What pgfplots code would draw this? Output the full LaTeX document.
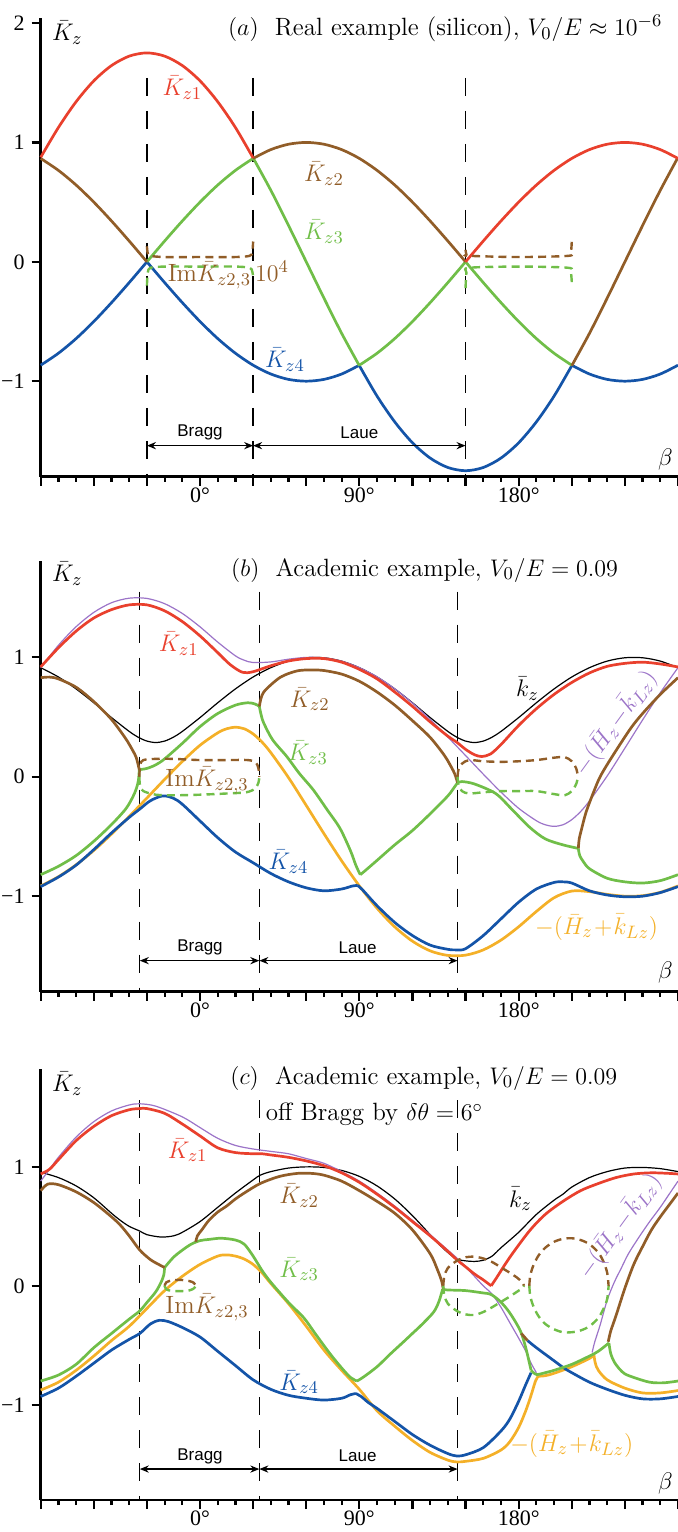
\documentclass[border=0pt]{standalone}
\usepackage{fontspec}
\usepackage{pgfplots}
\pgfplotsset{compat=1.18}
\usetikzlibrary{arrows.meta}
\newfontfamily\tickfontfam{Liberation Serif}
\newfontfamily\sansf{Liberation Sans}
\newcommand\tickfont{\tickfontfam\fontsize{11}{12}\selectfont}
\newcommand\lab{\fontsize{12.5}{14}\selectfont}
\newcommand\bl{\sansf\fontsize{8.5}{10}\selectfont}
\definecolor{cRed}{RGB}{233,64,45}
\definecolor{cBrown}{RGB}{145,93,40}
\definecolor{cGreen}{RGB}{112,190,72}
\definecolor{cBlue}{RGB}{20,84,168}
\definecolor{cOrange}{RGB}{244,176,40}
\definecolor{cPurple}{RGB}{156,116,200}
\pgfplotsset{
 panel/.style={
  scale only axis, width=318.65pt,
  xmin=-90, xmax=270,
  axis x line=bottom, axis y line=left,
  axis line style={-, line width=1.3pt},
  tick align=outside,
  xtick={-90,-60,...,270},
  xticklabels={,,,0°,,,90°,,,180°,,,},
  minor x tick num=2,
  ytick={-1,0,1}, yticklabels={−1,0,1},
  major tick length=4.5pt, minor tick length=2.6pt,
  every tick/.style={black, line width=1.1pt},
  ticklabel style={font=\tickfont},
  xticklabel style={yshift=2.5pt},
  clip=false, no markers,
  anchor=south west,
 },
 cr/.style={cRed, line width=1.35pt, smooth, line join=round},
 cb/.style={cBrown, line width=1.35pt, smooth, line join=round},
 cg/.style={cGreen, line width=1.35pt, smooth, line join=round},
 cu/.style={cBlue, line width=1.35pt, smooth, line join=round},
 co/.style={cOrange, line width=1.35pt, smooth, line join=round},
 cp/.style={cPurple, line width=0.6pt, smooth},
 ck/.style={black, line width=0.6pt, smooth},
 db/.style={cBrown, line width=1.2pt, smooth, dash pattern=on 4pt off 2.6pt},
 dg/.style={cGreen, line width=1.2pt, smooth, dash pattern=on 4pt off 2.6pt},
 vd/.style={black, line width=0.65pt, dash pattern=on 9pt off 7.5pt},
}
\tikzset{arr/.style={{Stealth[length=4.5pt,width=3.6pt]}-{Stealth[length=4.5pt,width=3.6pt]}, line width=0.6pt}}
\begin{document}
\begin{tikzpicture}
\path[use as bounding box] (0,0) rectangle (339pt,766pt);
% ================= panel a =================
\begin{axis}[panel, at={(20.35pt,527.65pt)}, height=229.2pt, ymin=-1.8, ymax=2.04,
  ytick={-1,0,1,2}, yticklabels={−1,0,1,2}]
\addplot[vd] coordinates {(-30,1.54) (-30,-1.8)};
\addplot[vd] coordinates {(30,1.54) (30,-1.8)};
\addplot[vd] coordinates {(150,1.54) (150,-1.8)};
% blue
\addplot[cu] coordinates {(-90,-0.866) (-80,-0.766) (-70,-0.643) (-60,-0.5) (-50,-0.342) (-40,-0.174) (-30,0)};
\addplot[cu] coordinates {(-30,0) (-20,-0.174) (-10,-0.342) (0,-0.5) (10,-0.643) (20,-0.766) (30,-0.866) (40,-0.940) (50,-0.985) (60,-1) (70,-0.985) (80,-0.940) (90,-0.866)};
\addplot[cu] coordinates {(90,-0.87) (100,-1.125) (110,-1.341) (120,-1.516) (130,-1.644) (140,-1.723) (150,-1.75) (160,-1.723) (170,-1.644) (180,-1.516) (190,-1.341) (200,-1.125) (210,-0.87)};
\addplot[cu] coordinates {(210,-0.866) (220,-0.940) (230,-0.985) (240,-1) (250,-0.985) (260,-0.940) (270,-0.866)};
% green
\addplot[cg] coordinates {(-30,0) (-20,0.174) (-10,0.342) (0,0.5) (10,0.643) (20,0.766) (30,0.866)};
\addplot[cg] coordinates {(30,0.87) (40,0.599) (50,0.304) (60,0) (70,-0.304) (80,-0.599) (90,-0.87)};
\addplot[cg] coordinates {(90,-0.866) (100,-0.766) (110,-0.643) (120,-0.5) (130,-0.342) (140,-0.174) (150,0)};
\addplot[cg] coordinates {(150,0) (160,-0.174) (170,-0.342) (180,-0.5) (190,-0.643) (200,-0.766) (210,-0.866)};
% brown
\addplot[cb] coordinates {(-90,0.866) (-80,0.766) (-70,0.643) (-60,0.5) (-50,0.342) (-40,0.174) (-30,0)};
\addplot[cb] coordinates {(30,0.866) (40,0.940) (50,0.985) (60,1) (70,0.985) (80,0.940) (90,0.866) (100,0.766) (110,0.643) (120,0.5) (130,0.342) (140,0.174) (150,0)};
\addplot[cb] coordinates {(210,-0.87) (220,-0.599) (230,-0.304) (240,0) (250,0.304) (260,0.599) (270,0.875)};
% red
\addplot[cr] coordinates {(-90,0.875) (-80,1.125) (-70,1.341) (-60,1.516) (-50,1.644) (-40,1.723) (-30,1.75) (-20,1.723) (-10,1.644) (0,1.516) (10,1.341) (20,1.125) (30,0.87)};
\addplot[cr] coordinates {(150,0) (160,0.174) (170,0.342) (180,0.5) (190,0.643) (200,0.766) (210,0.866) (220,0.940) (230,0.985) (240,1) (250,0.985) (260,0.940) (270,0.866)};
% Im parts
\addplot[db] coordinates {(-30,0.13) (-29.5,0.07) (-28,0.05) (-20,0.04) (0,0.04) (20,0.04) (28,0.05) (29.5,0.08) (30,0.17)};
\addplot[dg] coordinates {(-30,-0.2) (-29.5,-0.09) (-28,-0.05) (-20,-0.04) (0,-0.04) (20,-0.04) (28,-0.05) (29.5,-0.08) (30,-0.13)};
\addplot[db] coordinates {(150,0.1) (150.5,0.06) (152,0.05) (180,0.04) (208,0.05) (209.5,0.08) (210,0.17)};
\addplot[dg] coordinates {(150,-0.22) (150.5,-0.09) (152,-0.05) (180,-0.04) (208,-0.05) (209.5,-0.09) (210,-0.17)};
% labels
\node[font=\lab] at (axis cs:-75,1.92) {$\bar K_z$};
\node[font=\lab, anchor=base] at (axis cs:138.5,1.895) {$(a)$\ \ Real example (silicon), $V_0/E\approx10^{-6}$};
\node[font=\lab, text=cRed] at (axis cs:-10,1.46) {$\bar K_{z1}$};
\node[font=\lab, text=cBrown] at (axis cs:70,0.74) {$\bar K_{z2}$};
\node[font=\lab, text=cGreen] at (axis cs:70,0.25) {$\bar K_{z3}$};
\node[font=\lab, text=cBrown] at (axis cs:16,-0.11) {Im$\bar K_{z2,3}\,10^4$};
\node[font=\lab, text=cBlue] at (axis cs:48,-0.82) {$\bar K_{z4}$};
\draw[arr] (axis cs:-30,-1.54) -- (axis cs:30,-1.54);
\draw[arr] (axis cs:30,-1.54) -- (axis cs:150,-1.54);
\node[font=\bl] at (axis cs:0,-1.43) {Bragg};
\node[font=\bl] at (axis cs:90,-1.43) {Laue};
\node[font=\lab, anchor=east] at (axis cs:271,-1.66) {$\beta$};
\end{axis}
% ================= panel b =================
\begin{axis}[panel, at={(20.35pt,270.15pt)}, height=215.5pt, ymin=-1.8, ymax=1.81]
\addplot[vd] coordinates {(-34,1.55) (-34,-1.8)};
\addplot[vd] coordinates {(33.5,1.55) (33.5,-1.8)};
\addplot[vd] coordinates {(145.5,1.55) (145.5,-1.8)};
% black k_z
\addplot[ck] coordinates {(-90,0.914) (-80,0.836) (-70,0.736) (-60,0.620) (-50,0.496) (-40,0.380) (-35,0.332) (-30,0.299) (-25,0.287) (-20,0.299) (-15,0.332) (-10,0.380) (0,0.496) (10,0.620) (20,0.736) (30,0.836) (40,0.914) (50,0.969) (60,0.997) (70,0.997) (80,0.969) (90,0.914) (100,0.836) (110,0.736) (120,0.620) (130,0.496) (140,0.380) (145,0.332) (150,0.299) (155,0.287) (160,0.299) (165,0.332) (170,0.380) (180,0.496) (190,0.620) (200,0.736) (210,0.836) (220,0.914) (230,0.969) (240,0.997) (250,0.997) (260,0.969) (270,0.914)};
% purple
\addplot[cp] coordinates {(-90,0.914) (-80,1.101) (-70,1.257) (-60,1.377) (-50,1.458) (-40,1.496) (-30,1.494) (-20,1.450) (-10,1.368) (0,1.256) (10,1.128) (20,1.013) (25,0.976) (30,0.957) (40,0.962) (50,0.985) (60,1.000) (70,0.996) (80,0.968) (90,0.914) (100,0.837) (110,0.737) (120,0.617) (130,0.480) (140,0.332) (150,0.178) (160,0.022) (170,-0.128) (180,-0.264) (190,-0.368) (195,-0.402) (200,-0.415) (205,-0.402) (210,-0.359) (215,-0.291) (220,-0.202) (230,0.007) (240,0.240) (250,0.476) (260,0.704) (270,0.914)};
% orange
\addplot[co] coordinates {(-90,-0.914) (-80,-0.837) (-70,-0.737) (-60,-0.617) (-50,-0.480) (-40,-0.332) (-30,-0.178) (-20,-0.022) (-10,0.128) (0,0.264) (10,0.368) (15,0.402) (20,0.415) (25,0.402) (30,0.359) (35,0.291) (40,0.202) (50,-0.007) (60,-0.240) (70,-0.476) (80,-0.704) (90,-0.914) (100,-1.101) (110,-1.257) (120,-1.377) (130,-1.458) (140,-1.496) (150,-1.494) (160,-1.450) (170,-1.368) (180,-1.256) (190,-1.128) (200,-1.013) (210,-0.957) (220,-0.962) (230,-0.985) (240,-1.000) (250,-0.996) (260,-0.968) (270,-0.914)};
% blue
\addplot[cu] coordinates {(-90,-0.92) (-80,-0.84) (-70,-0.74) (-60,-0.61) (-50,-0.47) (-40,-0.34) (-34,-0.27) (-28,-0.20) (-21,-0.16) (-15,-0.18) (-10,-0.23) (0,-0.37) (10,-0.51) (20,-0.63) (30,-0.72) (40,-0.81) (50,-0.88) (60,-0.93) (70,-0.955) (80,-0.94) (86,-0.915) (89,-0.91)};
\addplot[cu] coordinates {(89,-0.91) (92,-0.95) (100,-1.08) (110,-1.22) (120,-1.33) (130,-1.41) (140,-1.445) (145,-1.45) (150,-1.44) (160,-1.33) (170,-1.19) (180,-1.05) (190,-0.94) (200,-0.885) (205,-0.88) (210,-0.89) (220,-0.955) (230,-0.99) (240,-1.005) (250,-1.0) (260,-0.97) (270,-0.92)};
% green
\addplot[cg] coordinates {(-90,-0.82) (-80,-0.75) (-70,-0.66) (-60,-0.54) (-50,-0.40) (-42,-0.27) (-38,-0.17) (-36,-0.10) (-34.8,-0.03) (-34.3,0.06)};
\addplot[cg] coordinates {(-34.3,0.06) (-30,0.07) (-25,0.10) (-20,0.15) (-10,0.28) (0,0.42) (10,0.53) (20,0.60) (27,0.62) (31,0.61) (33.5,0.59)};
\addplot[cg] coordinates {(33.5,0.59) (34.5,0.52) (36,0.45) (41,0.31) (49,0.17) (56,0.03) (64,-0.11) (72,-0.28) (79,-0.43) (85,-0.62) (88,-0.74) (90.5,-0.82)};
\addplot[cg] coordinates {(90.5,-0.82) (93,-0.79) (100,-0.70) (110,-0.57) (120,-0.45) (130,-0.31) (140,-0.16) (144,-0.08) (145.5,-0.05)};
\addplot[cg] coordinates {(145.5,-0.05) (148,-0.04) (155,-0.06) (167,-0.14) (176,-0.27) (186,-0.42) (195,-0.52) (205,-0.57) (213.7,-0.60)};
\addplot[cg] coordinates {(213.7,-0.60) (214.5,-0.66) (216.5,-0.71) (220,-0.77) (230,-0.85) (240,-0.88) (250,-0.89) (260,-0.87) (270,-0.82)};
% brown
\addplot[cb] coordinates {(-90,0.83) (-85,0.835) (-80,0.82) (-70,0.75) (-60,0.63) (-50,0.48) (-42,0.32) (-38,0.22) (-36,0.16) (-34.3,0.06)};
\addplot[cb] coordinates {(33.5,0.59) (34.5,0.66) (36,0.71) (40,0.77) (45,0.83) (50,0.865) (56,0.89) (63,0.895) (70,0.89) (80,0.86) (90,0.80) (100,0.71) (110,0.60) (120,0.47) (130,0.33) (138,0.18) (142,0.08) (144,0.02) (145.5,-0.05)};
\addplot[cb] coordinates {(213.7,-0.60) (214.2,-0.52) (215.5,-0.44) (218,-0.30) (222,-0.14) (226,0.0) (232,0.15) (243,0.40) (250,0.53) (260,0.69) (270,0.83)};
% red
\addplot[cr] coordinates {(-90,0.92) (-80,1.08) (-70,1.22) (-60,1.33) (-50,1.40) (-40,1.44) (-30,1.44) (-20,1.39) (-10,1.30) (0,1.18) (10,1.04) (17,0.94) (24,0.875) (30,0.88) (40,0.93) (50,0.97) (60,0.99) (70,0.99) (80,0.96) (90,0.90) (100,0.82) (110,0.71) (120,0.59) (130,0.46) (140,0.34) (145,0.29) (150,0.23) (155,0.185) (159,0.17) (164,0.19) (170,0.27) (180,0.43) (190,0.57) (200,0.69) (210,0.79) (220,0.87) (230,0.925) (240,0.95) (250,0.96) (260,0.945) (270,0.92)};
% Im parts
\addplot[db] coordinates {(-34.3,0.0) (-33.8,0.10) (-32,0.14) (-25,0.15) (-15,0.15) (0,0.14) (15,0.14) (27,0.14) (31.5,0.12) (33,0.07) (33.5,0.0)};
\addplot[dg] coordinates {(-34.3,0.0) (-33.8,-0.08) (-32,-0.12) (-25,-0.15) (-15,-0.155) (0,-0.15) (15,-0.14) (26,-0.13) (31,-0.10) (33,-0.05) (33.5,0.0)};
\addplot[db] coordinates {(145.5,0) (146,0.06) (148,0.11) (152,0.14) (160,0.13) (170,0.125) (180,0.13) (190,0.14) (200,0.16) (206,0.165) (210,0.13) (212.5,0.07) (213.5,0.0)};
\addplot[dg] coordinates {(145.5,0) (146,-0.07) (148,-0.12) (152,-0.14) (160,-0.13) (170,-0.12) (180,-0.12) (190,-0.12) (200,-0.145) (206,-0.155) (210,-0.12) (212.5,-0.06) (213.5,0.0)};
% labels
\node[font=\lab] at (axis cs:-75,1.70) {$\bar K_z$};
\node[font=\lab, anchor=base] at (axis cs:126.8,1.68) {$(b)$\ \ Academic example, $V_0/E=0.09$};
\node[font=\lab, text=cRed] at (axis cs:-12,1.115) {$\bar K_{z1}$};
\node[font=\lab, text=cBrown] at (axis cs:62,0.65) {$\bar K_{z2}$};
\node[font=\lab, text=cGreen] at (axis cs:61,0.20) {$\bar K_{z3}$};
\node[font=\lab, text=cBrown] at (axis cs:4,-0.03) {Im$\bar K_{z2,3}$};
\node[font=\lab, text=cBlue] at (axis cs:50,-0.71) {$\bar K_{z4}$};
\node[font=\lab] at (axis cs:185,0.74) {$\bar k_z$};
\node[font=\lab, text=cPurple, rotate=54] at (axis cs:234.5,0.45) {$-(\bar H_z\!-\!\bar k_{Lz})$};
\node[font=\lab, text=cOrange] at (axis cs:224,-1.26) {$-(\bar H_z\!+\!\bar k_{Lz})$};
\draw[arr] (axis cs:-34,-1.54) -- (axis cs:33.5,-1.54);
\draw[arr] (axis cs:33.5,-1.54) -- (axis cs:145.5,-1.54);
\node[font=\bl] at (axis cs:0,-1.43) {Bragg};
\node[font=\bl] at (axis cs:89,-1.43) {Laue};
\node[font=\lab, anchor=east] at (axis cs:271,-1.64) {$\beta$};
\end{axis}
% ================= panel c =================
\begin{axis}[panel, at={(20.35pt,16pt)}, height=215.35pt, ymin=-1.8, ymax=1.82]
\addplot[vd] coordinates {(-34,1.56) (-34,-1.8)};
\addplot[vd] coordinates {(33.5,1.56) (33.5,-1.8)};
\addplot[vd] coordinates {(145.5,1.56) (145.5,-1.8)};
% black
\addplot[ck] coordinates {(-90,0.955) (-80,0.91) (-70,0.84) (-60,0.74) (-50,0.61) (-45,0.55) (-40,0.50) (-34,0.46) (-30,0.43) (-22,0.41) (-15,0.42) (-10,0.45) (0,0.54) (10,0.66) (20,0.78) (30,0.89) (34,0.93) (40,0.96) (50,0.99) (60,1.0) (70,0.995) (80,0.97) (90,0.92) (100,0.84) (110,0.73) (120,0.59) (130,0.43) (135,0.35) (140,0.28) (145,0.225) (150,0.21) (155,0.205) (160,0.215) (165,0.25) (170,0.32) (180,0.45) (190,0.60) (200,0.72) (205,0.77) (210,0.83) (220,0.91) (230,0.96) (240,0.99) (250,0.995) (260,0.985) (270,0.96)};
% purple
\addplot[cp] coordinates {(-90,0.88) (-85,0.98) (-80,1.08) (-70,1.25) (-60,1.38) (-50,1.47) (-40,1.52) (-34,1.53) (-25,1.51) (-10,1.42) (0,1.33) (10,1.24) (20,1.18) (30,1.15) (40,1.13) (50,1.11) (60,1.07) (70,1.03) (80,0.96) (90,0.88) (100,0.78) (110,0.67) (120,0.55) (130,0.43) (140,0.30) (145,0.235) (150,0.16) (155,0.08) (160,0.0) (165,-0.07) (170,-0.18) (175,-0.31) (180,-0.44) (184,-0.55) (187,-0.65) (190,-0.73)};
\addplot[cp] coordinates {(221.5,-0.56) (223,-0.47) (226,-0.33) (230,-0.12) (234,0.03) (238,0.15) (242,0.27) (248,0.41) (254,0.54) (260,0.66) (265,0.77) (270,0.88)};
% orange
\addplot[co] coordinates {(-90,-0.876) (-80,-0.81) (-70,-0.71) (-60,-0.59) (-50,-0.46) (-40,-0.34) (-30,-0.19) (-20,-0.04) (-10,0.08) (0,0.18) (10,0.25) (15,0.26) (20,0.25) (25,0.225) (30,0.18) (35,0.11) (40,0.02) (50,-0.15) (60,-0.34) (70,-0.54) (80,-0.71) (90,-0.87) (100,-1.05) (110,-1.18) (120,-1.30) (130,-1.40) (140,-1.465) (145,-1.48) (150,-1.475) (160,-1.45) (170,-1.38) (175,-1.31) (180,-1.19) (184,-1.05) (187,-0.92) (189.5,-0.80) (191,-0.76)};
\addplot[co] coordinates {(191,-0.76) (195,-0.755) (200,-0.735) (210,-0.68) (220,-0.61) (222.5,-0.58)};
\addplot[co] coordinates {(222.5,-0.58) (223.3,-0.65) (225,-0.71) (230,-0.79) (240,-0.86) (250,-0.90) (260,-0.90) (270,-0.88)};
% blue
\addplot[cu] coordinates {(-90,-0.93) (-80,-0.86) (-70,-0.76) (-60,-0.65) (-50,-0.54) (-40,-0.45) (-34,-0.40) (-28,-0.32) (-23,-0.29) (-18,-0.30) (-10,-0.35) (0,-0.43) (10,-0.55) (20,-0.67) (30,-0.79) (40,-0.87) (50,-0.92) (60,-0.945) (70,-0.96) (80,-0.945) (85,-0.915) (88,-0.905)};
\addplot[cu] coordinates {(88,-0.905) (91,-0.93) (95,-0.98) (100,-1.03) (110,-1.14) (120,-1.25) (130,-1.34) (140,-1.41) (145,-1.43) (150,-1.42) (160,-1.36) (170,-1.22) (175,-1.12) (180,-0.97) (184,-0.83) (187,-0.73)};
\addplot[cu] coordinates {(185,-0.46) (190,-0.52) (200,-0.63) (205.5,-0.69) (210,-0.73) (220,-0.81) (230,-0.87) (240,-0.92) (250,-0.95) (260,-0.95) (270,-0.93)};
% green
\addplot[cg] coordinates {(-90,-0.80) (-80,-0.75) (-70,-0.66) (-60,-0.52) (-50,-0.40) (-40,-0.28) (-34,-0.21) (-30,-0.14) (-25,-0.05) (-22,0.03) (-20.5,0.09) (-20,0.154)};
\addplot[cg] coordinates {(-20,0.154) (-15,0.24) (-10,0.30) (-5,0.35) (0,0.38) (5,0.39) (12,0.40) (20,0.385) (25,0.35) (30,0.25) (35,0.13) (40,0.03) (50,-0.14) (58.7,-0.27) (65,-0.40) (73.4,-0.57) (80,-0.69) (85,-0.77) (88.6,-0.80)};
\addplot[cg] coordinates {(88.6,-0.80) (92,-0.77) (100,-0.68) (107.7,-0.57) (115,-0.47) (120,-0.40) (125,-0.33) (132,-0.22) (135,-0.13) (137,-0.03)};
\addplot[cg] coordinates {(137,-0.03) (140,-0.035) (150,-0.04) (160,-0.06) (164,-0.07) (168,-0.11) (172,-0.17) (176,-0.25) (181,-0.38) (184,-0.52) (187,-0.71)};
\addplot[cg] coordinates {(187,-0.71) (190,-0.745) (195,-0.73) (200,-0.71) (210,-0.66) (220,-0.59) (225,-0.55) (231,-0.48)};
\addplot[cg] coordinates {(231,-0.48) (232,-0.57) (234,-0.64) (237,-0.70) (240,-0.74) (245,-0.77) (254,-0.81) (262,-0.815) (270,-0.80)};
% brown
\addplot[cb] coordinates {(-90,0.80) (-86,0.855) (-80,0.85) (-70,0.79) (-60,0.70) (-50,0.58) (-45,0.51) (-40,0.42) (-34,0.30) (-28,0.22) (-24,0.185) (-20,0.154)};
\addplot[cb] coordinates {(-2.4,0.37) (-1.5,0.42) (1,0.47) (5,0.55) (10,0.62) (15,0.67) (20,0.73) (25,0.78) (34,0.86) (45,0.92) (55,0.945) (63,0.945) (70,0.93) (80,0.88) (90,0.80) (100,0.71) (110,0.61) (120,0.47) (130,0.27) (134,0.14) (136.5,0.04) (137.4,-0.03)};
\addplot[cb] coordinates {(181.5,-0.40) (185,-0.46)};
\addplot[cb] coordinates {(230.6,-0.47) (232,-0.38) (235,-0.25) (240,-0.02) (245,0.18) (250,0.33) (255,0.47) (260,0.58) (265,0.68) (270,0.78)};
% red
\addplot[cr] coordinates {(-90,0.94) (-85,0.98) (-80,1.06) (-70,1.22) (-60,1.34) (-50,1.43) (-40,1.48) (-34,1.49) (-30,1.49) (-20,1.45) (-10,1.36) (0,1.26) (10,1.16) (20,1.12) (30,1.11) (35,1.11) (40,1.10) (50,1.08) (60,1.05) (70,1.01) (80,0.95) (90,0.87) (100,0.77) (110,0.66) (120,0.54) (130,0.42) (140,0.29) (145,0.22) (150,0.16) (155,0.10) (160,0.05) (164.5,0.0)};
\addplot[cr] coordinates {(164.5,0.0) (167.6,0.07) (175,0.24) (186,0.46) (195,0.60) (205,0.71) (215,0.80) (225,0.86) (235,0.91) (245,0.94) (255,0.95) (265,0.945) (270,0.94)};
% Im parts
\addplot[db] coordinates {(-20,0.0) (-19,0.03) (-16,0.045) (-11,0.05) (-6,0.04) (-3.5,0.025) (-2.4,0.0)};
\addplot[dg] coordinates {(-20,0.0) (-19,-0.03) (-16,-0.042) (-11,-0.045) (-6,-0.038) (-3.5,-0.022) (-2.4,0.0)};
\addplot[db] coordinates {(137.4,0.0) (138,0.08) (140,0.15) (145,0.21) (150,0.24) (155,0.245) (160,0.23) (165,0.20) (170,0.155) (175,0.11) (179,0.07) (182,0.03) (183,0.0)};
\addplot[dg] coordinates {(137.4,0.0) (138,-0.08) (140,-0.15) (145,-0.21) (150,-0.24) (155,-0.245) (160,-0.22) (165,-0.18) (170,-0.135) (175,-0.09) (179,-0.05) (182,-0.02) (183,0.0)};
\addplot[db] coordinates {(186,0.0) (186.5,0.08) (188,0.16) (191,0.25) (195,0.32) (200,0.37) (205,0.395) (210,0.40) (215,0.385) (220,0.35) (225,0.28) (228,0.20) (230,0.11) (230.8,0.0)};
\addplot[dg] coordinates {(186,0.0) (186.5,-0.08) (188,-0.16) (191,-0.25) (195,-0.32) (200,-0.365) (205,-0.39) (210,-0.39) (215,-0.375) (220,-0.34) (225,-0.27) (228,-0.19) (230,-0.11) (230.8,0.0)};
% labels
\node[font=\lab] at (axis cs:-75,1.70) {$\bar K_z$};
\node[font=\lab, anchor=base] at (axis cs:126.4,1.695) {$(c)$\ \ Academic example, $V_0/E=0.09$};
\node[font=\lab, anchor=base west] at (axis cs:33.2,1.387) {off Bragg by $\delta\theta=6^\circ$};
\node[font=\lab, text=cRed] at (axis cs:-7,1.14) {$\bar K_{z1}$};
\node[font=\lab, text=cBrown] at (axis cs:56,0.76) {$\bar K_{z2}$};
\node[font=\lab] at (axis cs:181,0.73) {$\bar k_z$};
\node[font=\lab, text=cGreen] at (axis cs:56,0.14) {$\bar K_{z3}$};
\node[font=\lab, text=cBrown] at (axis cs:4,-0.18) {Im$\bar K_{z2,3}$};
\node[font=\lab, text=cBlue] at (axis cs:56,-0.81) {$\bar K_{z4}$};
\node[font=\lab, text=cPurple, rotate=54] at (axis cs:237,0.50) {$-(\bar H_z\!-\!\bar k_{Lz})$};
\node[font=\lab, text=cOrange] at (axis cs:210,-1.33) {$-(\bar H_z\!+\!\bar k_{Lz})$};
\draw[arr] (axis cs:-34,-1.54) -- (axis cs:33.5,-1.54);
\draw[arr] (axis cs:33.5,-1.54) -- (axis cs:145.5,-1.54);
\node[font=\bl] at (axis cs:0,-1.43) {Bragg};
\node[font=\bl] at (axis cs:89,-1.43) {Laue};
\node[font=\lab, anchor=east] at (axis cs:271,-1.66) {$\beta$};
\end{axis}
\end{tikzpicture}
\end{document}
